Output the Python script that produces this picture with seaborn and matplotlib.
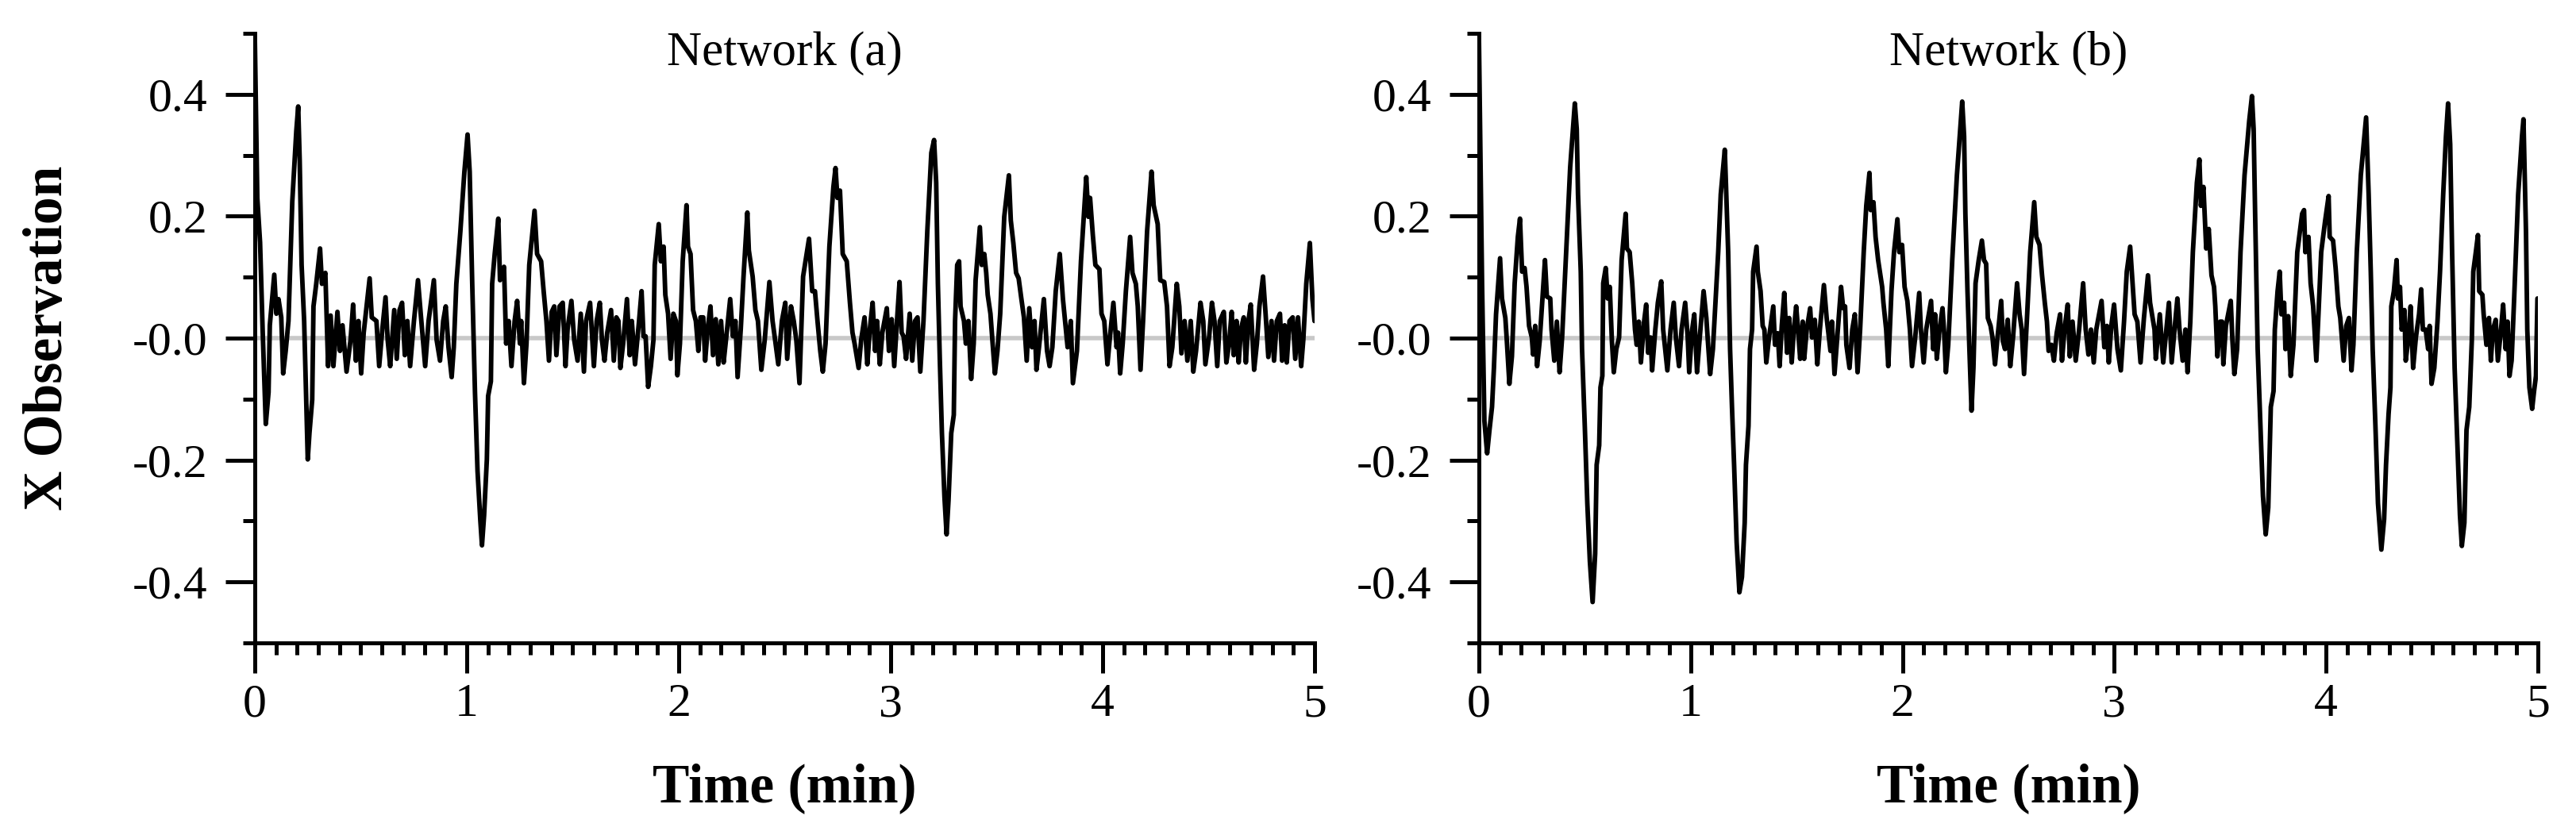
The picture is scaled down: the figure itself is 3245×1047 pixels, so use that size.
import numpy as np
import matplotlib
matplotlib.use('Agg')
import matplotlib.pyplot as plt
import seaborn as sns

# Time (min) / X observation pairs
wave_a = [
    (0.000, 0.500), (0.012, 0.230), (0.025, 0.157), (0.037, 0.015), (0.052, -0.141), (0.065, -0.089),
    (0.071, 0.021), (0.092, 0.104), (0.102, 0.040), (0.112, 0.064), (0.125, 0.034), (0.134, -0.058),
    (0.146, -0.021), (0.159, 0.028), (0.177, 0.224), (0.196, 0.340), (0.205, 0.380), (0.212, 0.291),
    (0.221, 0.120), (0.233, 0.028), (0.242, -0.095), (0.250, -0.199), (0.258, -0.156), (0.271, -0.101),
    (0.277, 0.052), (0.290, 0.089), (0.308, 0.147), (0.317, 0.089), (0.333, 0.107), (0.346, -0.046),
    (0.358, 0.037), (0.371, -0.046), (0.390, 0.043), (0.402, -0.021), (0.414, 0.021), (0.433, -0.055),
    (0.452, -0.003), (0.464, 0.055), (0.477, -0.037), (0.489, 0.028), (0.502, -0.058), (0.514, 0.009),
    (0.542, 0.098), (0.552, 0.034), (0.574, 0.028), (0.587, -0.046), (0.602, 0.015), (0.617, 0.067),
    (0.627, -0.003), (0.639, -0.046), (0.658, 0.046), (0.670, -0.034), (0.683, 0.046), (0.695, 0.058),
    (0.708, -0.028), (0.720, 0.028), (0.733, -0.046), (0.751, 0.028), (0.770, 0.095), (0.783, 0.040),
    (0.804, -0.046), (0.820, 0.028), (0.845, 0.095), (0.858, -0.003), (0.874, -0.037), (0.889, 0.028),
    (0.901, 0.052), (0.914, -0.015), (0.929, -0.064), (0.939, -0.015), (0.951, 0.089), (0.970, 0.175),
    (0.989, 0.273), (1.004, 0.334), (1.014, 0.273), (1.026, 0.089), (1.039, -0.089), (1.051, -0.218),
    (1.064, -0.298), (1.072, -0.340), (1.082, -0.291), (1.095, -0.199), (1.101, -0.095), (1.114, -0.071),
    (1.120, 0.089), (1.132, 0.138), (1.149, 0.196), (1.157, 0.095), (1.176, 0.117), (1.186, -0.009),
    (1.198, 0.028), (1.211, -0.046), (1.226, 0.028), (1.238, 0.061), (1.251, -0.009), (1.257, 0.028),
    (1.270, -0.074), (1.282, -0.009), (1.295, 0.120), (1.320, 0.209), (1.332, 0.138), (1.351, 0.126),
    (1.363, 0.077), (1.376, 0.028), (1.388, -0.037), (1.401, 0.043), (1.413, 0.052), (1.423, -0.028),
    (1.438, 0.052), (1.453, 0.058), (1.466, -0.046), (1.476, 0.015), (1.494, 0.061), (1.507, -0.003),
    (1.523, -0.037), (1.538, 0.040), (1.553, -0.055), (1.563, 0.028), (1.582, 0.058), (1.600, -0.046),
    (1.613, 0.028), (1.628, 0.058), (1.638, -0.003), (1.650, -0.037), (1.663, 0.009), (1.681, 0.046),
    (1.694, -0.037), (1.706, 0.034), (1.716, 0.028), (1.725, -0.049), (1.738, -0.009), (1.756, 0.064),
    (1.769, -0.028), (1.779, 0.028), (1.794, -0.043), (1.813, 0.028), (1.825, 0.077), (1.834, 0.003),
    (1.844, 0.003), (1.856, -0.080), (1.869, -0.046), (1.881, -0.003), (1.887, 0.120), (1.906, 0.187),
    (1.916, 0.126), (1.929, 0.150), (1.937, 0.071), (1.950, 0.040), (1.962, -0.034), (1.975, 0.040),
    (1.987, 0.028), (1.994, -0.061), (2.006, -0.009), (2.019, 0.126), (2.037, 0.218), (2.044, 0.150),
    (2.056, 0.138), (2.068, 0.046), (2.081, 0.028), (2.093, -0.021), (2.103, 0.034), (2.116, 0.034),
    (2.125, -0.037), (2.137, 0.015), (2.150, 0.052), (2.162, -0.028), (2.175, 0.031), (2.187, -0.043),
    (2.200, 0.028), (2.212, -0.040), (2.225, 0.003), (2.243, 0.064), (2.256, 0.003), (2.268, 0.028),
    (2.278, -0.064), (2.293, 0.015), (2.306, 0.101), (2.324, 0.206), (2.331, 0.144), (2.349, 0.101),
    (2.362, 0.046), (2.374, 0.028), (2.390, -0.052), (2.406, -0.003), (2.428, 0.092), (2.443, 0.028),
    (2.455, -0.003), (2.470, -0.043), (2.487, 0.028), (2.503, 0.058), (2.512, -0.034), (2.530, 0.052),
    (2.543, 0.028), (2.555, -0.003), (2.570, -0.074), (2.587, 0.101), (2.615, 0.163), (2.630, 0.077),
    (2.643, 0.077), (2.655, 0.028), (2.668, -0.021), (2.680, -0.055), (2.693, -0.009), (2.711, 0.150),
    (2.730, 0.248), (2.740, 0.279), (2.749, 0.230), (2.761, 0.242), (2.774, 0.138), (2.793, 0.126),
    (2.808, 0.058), (2.820, 0.009), (2.830, -0.009), (2.849, -0.049), (2.861, -0.003), (2.877, 0.034),
    (2.890, -0.043), (2.902, 0.015), (2.915, 0.058), (2.927, -0.021), (2.936, 0.028), (2.949, -0.043),
    (2.961, 0.009), (2.982, 0.049), (2.992, -0.021), (3.005, 0.031), (3.017, -0.046), (3.030, 0.028),
    (3.042, 0.092), (3.052, 0.009), (3.061, 0.003), (3.073, -0.034), (3.090, 0.040), (3.102, -0.037),
    (3.115, 0.028), (3.127, 0.034), (3.140, -0.055), (3.155, 0.028), (3.173, 0.175), (3.192, 0.304),
    (3.205, 0.325), (3.215, 0.255), (3.223, 0.089), (3.232, -0.034), (3.242, -0.156), (3.254, -0.261),
    (3.264, -0.322), (3.273, -0.267), (3.286, -0.156), (3.298, -0.126), (3.304, 0.028), (3.314, 0.120),
    (3.323, 0.126), (3.330, 0.052), (3.346, 0.028), (3.355, -0.009), (3.367, 0.028), (3.380, -0.067),
    (3.392, -0.009), (3.401, 0.095), (3.421, 0.182), (3.430, 0.120), (3.442, 0.138), (3.451, 0.107),
    (3.458, 0.071), (3.471, 0.040), (3.480, -0.003), (3.492, -0.058), (3.504, -0.021), (3.517, 0.040),
    (3.536, 0.199), (3.558, 0.267), (3.567, 0.193), (3.579, 0.156), (3.592, 0.107), (3.604, 0.098),
    (3.617, 0.064), (3.629, 0.034), (3.642, -0.037), (3.654, 0.049), (3.667, -0.015), (3.679, 0.028),
    (3.688, -0.052), (3.700, -0.015), (3.723, 0.064), (3.738, -0.021), (3.750, -0.046), (3.763, -0.015),
    (3.779, 0.077), (3.798, 0.138), (3.813, 0.064), (3.823, 0.028), (3.835, -0.015), (3.850, 0.028),
    (3.860, -0.074), (3.879, -0.021), (3.898, 0.126), (3.923, 0.264), (3.933, 0.199), (3.941, 0.230),
    (3.954, 0.169), (3.966, 0.120), (3.985, 0.113), (3.995, 0.040), (4.008, 0.028), (4.023, -0.043),
    (4.035, 0.003), (4.051, 0.058), (4.066, -0.015), (4.073, 0.009), (4.083, -0.058), (4.095, -0.009),
    (4.110, 0.077), (4.130, 0.166), (4.141, 0.107), (4.157, 0.089), (4.166, 0.052), (4.179, -0.052),
    (4.191, 0.028), (4.210, 0.175), (4.231, 0.273), (4.241, 0.218), (4.260, 0.187), (4.272, 0.095),
    (4.291, 0.092), (4.304, 0.052), (4.316, -0.046), (4.329, -0.015), (4.350, 0.089), (4.362, 0.052),
    (4.372, -0.025), (4.387, 0.028), (4.400, -0.037), (4.416, 0.028), (4.428, -0.055), (4.441, -0.021),
    (4.462, 0.058), (4.475, 0.028), (4.485, -0.043), (4.503, 0.003), (4.516, 0.058), (4.528, 0.028),
    (4.541, -0.046), (4.553, 0.028), (4.572, 0.043), (4.584, -0.040), (4.597, -0.009), (4.609, 0.043),
    (4.619, -0.028), (4.632, 0.028), (4.642, -0.040), (4.653, 0.015), (4.666, 0.034), (4.676, -0.040),
    (4.688, 0.028), (4.699, 0.055), (4.715, -0.052), (4.728, -0.009), (4.740, 0.052), (4.757, 0.101),
    (4.769, 0.040), (4.782, -0.031), (4.797, 0.028), (4.809, -0.037), (4.822, 0.028), (4.837, 0.040),
    (4.847, -0.037), (4.859, 0.021), (4.869, -0.040), (4.882, 0.028), (4.897, 0.034), (4.909, -0.034),
    (4.922, 0.034), (4.937, -0.046), (4.947, -0.003), (4.961, 0.089), (4.978, 0.156), (4.990, 0.064),
    (5.000, 0.028),
]

wave_b = [
    (0.000, 0.500), (0.015, 0.090), (0.026, -0.136), (0.039, -0.189), (0.050, -0.151), (0.062, -0.113),
    (0.071, -0.049), (0.081, 0.039), (0.100, 0.131), (0.109, 0.065), (0.125, 0.033), (0.131, 0.001),
    (0.144, -0.075), (0.156, -0.030), (0.169, 0.090), (0.184, 0.166), (0.194, 0.196), (0.204, 0.109),
    (0.216, 0.115), (0.225, 0.084), (0.237, 0.020), (0.250, 0.001), (0.256, -0.027), (0.266, 0.020),
    (0.275, -0.046), (0.287, -0.005), (0.300, 0.065), (0.312, 0.128), (0.321, 0.068), (0.337, 0.065),
    (0.343, 0.014), (0.356, -0.037), (0.368, 0.027), (0.381, -0.056), (0.393, 0.001), (0.412, 0.141),
    (0.431, 0.280), (0.453, 0.385), (0.462, 0.343), (0.468, 0.236), (0.481, 0.109), (0.487, -0.018),
    (0.500, -0.144), (0.512, -0.271), (0.524, -0.366), (0.537, -0.433), (0.549, -0.354), (0.556, -0.208),
    (0.568, -0.176), (0.574, -0.081), (0.583, -0.062), (0.587, 0.090), (0.599, 0.115), (0.608, 0.065),
    (0.618, 0.084), (0.628, -0.005), (0.637, -0.056), (0.649, -0.018), (0.662, 0.001), (0.674, 0.128),
    (0.693, 0.204), (0.699, 0.147), (0.712, 0.141), (0.724, 0.090), (0.737, 0.014), (0.745, -0.011),
    (0.755, 0.027), (0.765, -0.040), (0.780, 0.027), (0.790, 0.055), (0.799, -0.024), (0.811, 0.001),
    (0.818, -0.053), (0.833, 0.014), (0.845, 0.058), (0.861, 0.093), (0.870, 0.014), (0.890, -0.053),
    (0.905, 0.014), (0.920, 0.058), (0.930, 0.001), (0.945, -0.046), (0.957, 0.014), (0.974, 0.058),
    (0.986, 0.001), (0.993, -0.056), (1.007, 0.014), (1.017, 0.039), (1.030, -0.056), (1.040, -0.011),
    (1.061, 0.077), (1.074, 0.033), (1.080, 0.001), (1.092, -0.059), (1.105, -0.018), (1.130, 0.141),
    (1.142, 0.236), (1.161, 0.309), (1.167, 0.248), (1.177, 0.141), (1.186, -0.018), (1.195, -0.113),
    (1.205, -0.208), (1.217, -0.335), (1.230, -0.417), (1.242, -0.392), (1.255, -0.303), (1.261, -0.208),
    (1.273, -0.144), (1.280, -0.018), (1.290, 0.014), (1.295, 0.109), (1.311, 0.150), (1.317, 0.109),
    (1.330, 0.077), (1.340, 0.020), (1.348, 0.014), (1.357, -0.040), (1.370, 0.001), (1.390, 0.052),
    (1.398, -0.011), (1.411, 0.008), (1.420, -0.046), (1.430, 0.020), (1.442, 0.074), (1.455, -0.024),
    (1.465, 0.033), (1.477, -0.040), (1.486, 0.008), (1.498, 0.052), (1.507, 0.014), (1.517, -0.034),
    (1.529, 0.027), (1.536, -0.034), (1.548, 0.014), (1.564, 0.049), (1.573, 0.001), (1.586, 0.030),
    (1.598, -0.043), (1.610, 0.014), (1.629, 0.087), (1.642, 0.033), (1.660, -0.021), (1.667, 0.027),
    (1.679, -0.059), (1.688, -0.018), (1.710, 0.084), (1.720, 0.049), (1.729, 0.052), (1.735, -0.011),
    (1.750, -0.049), (1.763, 0.014), (1.775, 0.039), (1.788, -0.056), (1.800, 0.014), (1.817, 0.141),
    (1.829, 0.217), (1.844, 0.271), (1.850, 0.210), (1.863, 0.223), (1.873, 0.166), (1.885, 0.128),
    (1.904, 0.084), (1.910, 0.058), (1.923, 0.014), (1.933, -0.046), (1.948, 0.077), (1.960, 0.141),
    (1.976, 0.195), (1.985, 0.141), (1.998, 0.153), (2.010, 0.084), (2.023, 0.061), (2.035, 0.014),
    (2.045, -0.046), (2.060, 0.001), (2.079, 0.074), (2.087, 0.014), (2.100, -0.040), (2.112, 0.014),
    (2.135, 0.061), (2.145, -0.018), (2.154, 0.039), (2.162, -0.034), (2.175, 0.014), (2.189, 0.049),
    (2.197, 0.008), (2.205, -0.056), (2.216, -0.011), (2.235, 0.128), (2.257, 0.267), (2.282, 0.388),
    (2.291, 0.331), (2.297, 0.204), (2.307, 0.077), (2.316, -0.018), (2.326, -0.119), (2.335, -0.049),
    (2.345, 0.090), (2.360, 0.128), (2.375, 0.160), (2.385, 0.128), (2.395, 0.122), (2.403, 0.033),
    (2.416, 0.020), (2.425, 0.001), (2.437, -0.043), (2.447, -0.005), (2.466, 0.061), (2.474, -0.005),
    (2.484, -0.018), (2.497, 0.030), (2.509, -0.046), (2.522, 0.001), (2.541, 0.090), (2.553, 0.039),
    (2.563, 0.014), (2.574, -0.059), (2.587, 0.027), (2.603, 0.141), (2.622, 0.223), (2.632, 0.166),
    (2.647, 0.153), (2.659, 0.103), (2.672, 0.058), (2.682, 0.027), (2.690, -0.021), (2.703, -0.011),
    (2.715, -0.037), (2.728, 0.008), (2.744, 0.039), (2.753, -0.037), (2.765, 0.014), (2.780, 0.055),
    (2.790, -0.030), (2.803, 0.027), (2.818, -0.037), (2.834, 0.014), (2.853, 0.090), (2.865, 0.014),
    (2.878, -0.027), (2.890, 0.014), (2.903, -0.040), (2.915, 0.014), (2.940, 0.061), (2.953, -0.015),
    (2.965, 0.020), (2.974, -0.040), (2.986, 0.020), (2.999, 0.055), (3.015, -0.018), (3.031, -0.053),
    (3.046, 0.027), (3.059, 0.109), (3.075, 0.150), (3.084, 0.103), (3.096, 0.039), (3.109, 0.027),
    (3.124, -0.040), (3.140, 0.033), (3.159, 0.103), (3.169, 0.058), (3.190, 0.014), (3.196, -0.034),
    (3.215, 0.039), (3.231, -0.040), (3.246, 0.014), (3.258, 0.058), (3.271, -0.040), (3.286, 0.020),
    (3.298, 0.065), (3.308, 0.014), (3.323, -0.037), (3.336, 0.014), (3.346, -0.056), (3.359, 0.027),
    (3.371, 0.141), (3.390, 0.255), (3.402, 0.293), (3.409, 0.217), (3.421, 0.248), (3.434, 0.147),
    (3.446, 0.179), (3.459, 0.103), (3.471, 0.084), (3.477, 0.052), (3.487, -0.030), (3.500, 0.027),
    (3.509, 0.027), (3.515, -0.043), (3.527, 0.020), (3.550, 0.061), (3.558, -0.005), (3.567, -0.059),
    (3.580, -0.018), (3.596, 0.141), (3.615, 0.267), (3.637, 0.356), (3.650, 0.397), (3.658, 0.343),
    (3.665, 0.204), (3.677, -0.018), (3.690, -0.144), (3.702, -0.259), (3.715, -0.322), (3.727, -0.278),
    (3.739, -0.113), (3.752, -0.087), (3.758, 0.014), (3.771, 0.077), (3.781, 0.109), (3.789, 0.039),
    (3.802, 0.058), (3.808, -0.018), (3.821, 0.036), (3.833, -0.062), (3.846, -0.011), (3.864, 0.141),
    (3.887, 0.204), (3.896, 0.210), (3.902, 0.141), (3.917, 0.166), (3.927, 0.090), (3.939, 0.052),
    (3.954, -0.037), (3.964, 0.039), (3.977, 0.141), (3.995, 0.191), (4.012, 0.233), (4.017, 0.166),
    (4.033, 0.160), (4.045, 0.115), (4.058, 0.052), (4.067, 0.033), (4.083, -0.037), (4.095, 0.020),
    (4.108, 0.033), (4.120, -0.053), (4.129, -0.011), (4.145, 0.141), (4.164, 0.267), (4.189, 0.362),
    (4.201, 0.236), (4.211, 0.109), (4.220, -0.018), (4.233, -0.144), (4.245, -0.271), (4.261, -0.347),
    (4.274, -0.297), (4.283, -0.208), (4.295, -0.125), (4.304, -0.081), (4.308, 0.052), (4.320, 0.077),
    (4.333, 0.128), (4.339, 0.065), (4.349, 0.084), (4.357, 0.014), (4.370, 0.046), (4.376, -0.037),
    (4.389, 0.001), (4.399, 0.052), (4.411, -0.049), (4.424, 0.001), (4.439, 0.039), (4.449, 0.080),
    (4.457, 0.014), (4.470, 0.014), (4.482, -0.018), (4.489, 0.020), (4.498, -0.075), (4.511, -0.049),
    (4.526, 0.027), (4.538, 0.109), (4.553, 0.236), (4.566, 0.331), (4.576, 0.385), (4.586, 0.318),
    (4.595, 0.141), (4.607, -0.049), (4.620, -0.176), (4.632, -0.290), (4.641, -0.341), (4.653, -0.303),
    (4.663, -0.151), (4.676, -0.113), (4.688, -0.005), (4.695, 0.109), (4.707, 0.141), (4.717, 0.169),
    (4.723, 0.077), (4.738, 0.071), (4.744, 0.039), (4.757, -0.011), (4.769, 0.033), (4.778, -0.037),
    (4.788, 0.014), (4.801, 0.030), (4.811, -0.037), (4.826, 0.014), (4.836, 0.055), (4.848, -0.018),
    (4.857, 0.027), (4.866, -0.062), (4.876, -0.037), (4.888, 0.065), (4.907, 0.236), (4.925, 0.331),
    (4.932, 0.359), (4.938, 0.267), (4.944, 0.172), (4.950, 0.014), (4.960, -0.081), (4.973, -0.116),
    (4.982, -0.087), (4.991, -0.062), (4.998, 0.065),
]

titles = ['Network (a)', 'Network (b)']
x_ticks = [0, 1, 2, 3, 4, 5]
x_tick_labels = ['0', '1', '2', '3', '4', '5']
y_ticks = [-0.4, -0.2, 0.0, 0.2, 0.4]
y_tick_labels = ['-0.4', '-0.2', '-0.0', '0.2', '0.4']

sns.set_style("ticks")
plt.rcParams['font.family'] = ['Liberation Serif', 'DejaVu Serif']
plt.rcParams['text.color'] = 'black'
plt.rcParams['axes.labelcolor'] = 'black'
plt.rcParams['xtick.color'] = 'black'
plt.rcParams['ytick.color'] = 'black'
plt.rcParams['axes.edgecolor'] = 'black'

fig = plt.figure(figsize=(16.225, 5.235), dpi=200)
ax_a = fig.add_axes([0.0989, 0.2264, 0.4114, 0.7335])
ax_b = fig.add_axes([0.5741, 0.2264, 0.4111, 0.7335])

for ax, wave, title in zip([ax_a, ax_b], [wave_a, wave_b], titles):
    t, x = zip(*wave)
    ax.axhline(0, color='#c8c8c8', lw=2.0, zorder=1)
    sns.lineplot(x=list(t), y=list(x), ax=ax, color='black', lw=2.1,
                 sort=False, estimator=None, zorder=3)
    ax.set_xlim(0, 5)
    ax.set_ylim(-0.5, 0.5)
    ax.set_xticks(x_ticks)
    ax.set_xticklabels(x_tick_labels)
    ax.set_xticks(np.arange(0, 50.5) / 10, minor=True)
    ax.set_yticks(y_ticks)
    ax.set_yticklabels(y_tick_labels)
    ax.set_yticks(np.arange(-5, 5.5) / 10, minor=True)
    ax.tick_params(which='major', direction='out', length=13.5, width=1.8,
                   labelsize=21.5, color='black', labelcolor='black')
    ax.tick_params(which='minor', direction='out', length=5.5, width=1.8, color='black')
    ax.tick_params(axis='x', which='major', pad=5)
    ax.tick_params(axis='y', which='major', pad=8)
    sns.despine(ax=ax)
    for side in ['left', 'bottom']:
        ax.spines[side].set_linewidth(1.8)
        ax.spines[side].set_color('black')
    ax.text(0.5, 0.948, title, transform=ax.transAxes, ha='center',
            va='baseline', fontsize=22, color='black')
    ax.set_xlabel('Time (min)', fontsize=25, fontweight='bold', color='black')
    ax.xaxis.label.set_va('baseline')
    ax.xaxis.set_label_coords(0.5, -0.2604)
    ax.set_ylabel('')

ax_a.set_ylabel('X Observation', fontsize=25, fontweight='bold', color='black')
ax_a.yaxis.label.set_va('center')
ax_a.yaxis.set_label_coords(-0.1948, 0.5)

plt.savefig('out.png', dpi=200)
